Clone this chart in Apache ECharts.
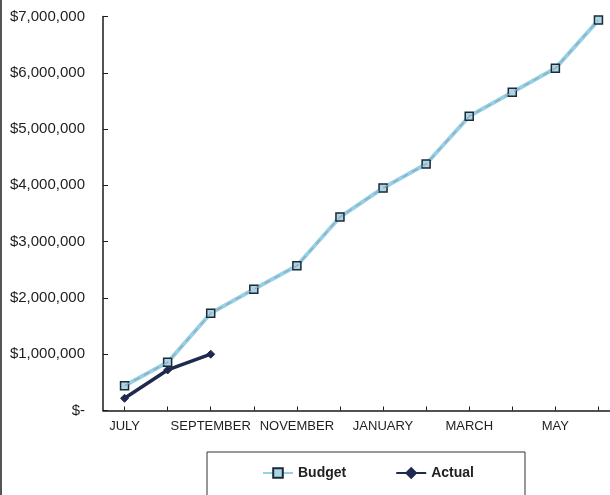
<!DOCTYPE html>
<html>
<head>
<meta charset="utf-8">
<script src="https://cdn.jsdelivr.net/npm/echarts@6/dist/echarts.min.js"></script>
<style>
  html, body { margin: 0; padding: 0; background: #fff; overflow: hidden; }
  /* the plot runs slightly past the right edge of the window */
  #chart { width: 622px; height: 495px; }
</style>
</head>
<body>
<div id="chart"></div>
<script>
// Fiscal-year months, July through June
const months = ['JULY', 'AUGUST', 'SEPTEMBER', 'OCTOBER', 'NOVEMBER', 'DECEMBER',
                'JANUARY', 'FEBRUARY', 'MARCH', 'APRIL', 'MAY', 'JUNE'];

// Cumulative budget by month
const budget = [440000, 856000, 1727000, 2153000, 2572000, 3437000,
                3953000, 4379000, 5226000, 5653000, 6079000, 6937000];

// Cumulative actual spending so far
const actual = [217000, 720000, 1000000];

// Value axis ticks
const yMin = 0;
const yMax = 7000000;
const yStep = 1000000;

const FONT = '"Liberation Sans", Arial, sans-serif';

function money(v) {
  if (v === 0) return '$-';
  return '$' + v.toLocaleString('en-US');
}

const chart = echarts.init(document.getElementById('chart'), null, { renderer: 'canvas' });

chart.setOption({
  animation: false,
  backgroundColor: '#ffffff',
  grid: { left: 103, top: 16.5, width: 517, height: 394 },
  xAxis: {
    type: 'category',
    data: months,
    boundaryGap: true,
    axisLine: { show: true, lineStyle: { color: '#1a1a1a', width: 1.5 } },
    axisTick: { show: true, inside: true, length: 4, alignWithLabel: true, interval: 0,
                lineStyle: { color: '#1a1a1a', width: 1 } },
    axisLabel: { interval: 1, margin: 9, fontFamily: FONT, fontSize: 13, color: '#1e1e1e' },
    splitLine: { show: false }
  },
  yAxis: {
    type: 'value',
    min: yMin, max: yMax, interval: yStep,
    axisLine: { show: true, lineStyle: { color: '#1a1a1a', width: 1.5 } },
    axisTick: { show: true, inside: true, length: 5, lineStyle: { color: '#1a1a1a', width: 1 } },
    axisLabel: { margin: 18, fontFamily: FONT, fontSize: 15, color: '#1e1e1e', formatter: money },
    splitLine: { show: false }
  },
  legend: {
    data: ['Budget', 'Actual'],
    left: 207, top: 452,
    orient: 'horizontal',
    padding: [14, 51, 34, 55],
    itemGap: 49,
    itemWidth: 30, itemHeight: 12,
    borderColor: '#333',
    borderWidth: 1,
    backgroundColor: '#fff',
    textStyle: { fontFamily: FONT, fontSize: 14, fontWeight: 'bold', color: '#222' }
  },
  series: [
    {
      name: 'Budget',
      type: 'line',
      data: budget,
      symbol: 'rect',
      symbolSize: 8,
      lineStyle: { color: '#93d1e8', width: 4 },
      itemStyle: { color: '#a9d6e6', borderColor: '#1d2838', borderWidth: 1.5 },
      z: 3
    },
    {
      // grey dashed core drawn along the budget line
      name: 'Budget core',
      type: 'line',
      data: budget,
      symbol: 'none',
      silent: true,
      lineStyle: { color: '#9aa3ab', width: 1.2, type: [6, 5] },
      z: 3.5
    },
    {
      name: 'Actual',
      type: 'line',
      data: actual,
      symbol: 'diamond',
      symbolSize: 8,
      lineStyle: { color: '#1f2b4e', width: 3.5 },
      itemStyle: { color: '#1f2b4e', borderColor: '#1f2b4e', borderWidth: 1 },
      z: 4
    }
  ],
  graphic: [
    { type: 'rect', shape: { x: 0, y: 0, width: 2, height: 495 },
      style: { fill: '#555' }, silent: true }
  ]
});
</script>
</body>
</html>
